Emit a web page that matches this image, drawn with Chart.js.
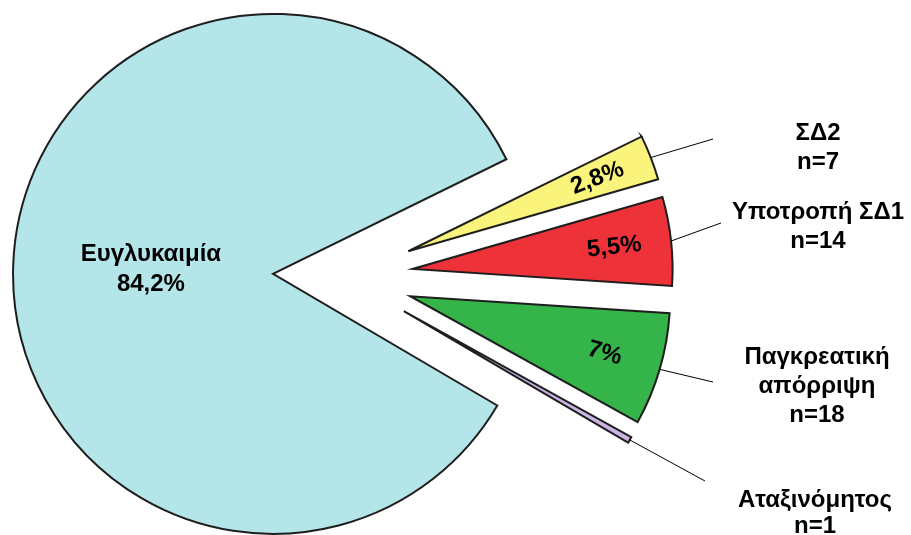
<!DOCTYPE html>
<html lang="el">
<head>
<meta charset="utf-8">
<title>Κατανομή ασθενών</title>
<script src="https://cdn.jsdelivr.net/npm/chart.js@4/dist/chart.umd.min.js"></script>
<style>
    html, body { margin: 0; padding: 0; background: #ffffff; }
    #wrap { width: 911px; height: 535px; position: relative; }
</style>
</head>
<body>
<div id="wrap"><canvas id="pieChart"></canvas></div>
<script>
// ===== Data =====
const categories = ['Ευγλυκαιμία', 'ΣΔ2', 'Υποτροπή ΣΔ1', 'Παγκρεατική απόρριψη', 'Αταξινόμητος'];
const percentages = [84.2, 2.8, 5.5, 7, 0.4];
const counts = [null, 7, 14, 18, 1];
const showPercent = [true, true, true, true, false];
// name lines for the callouts on the right (main slice is labelled inside)
const calloutNames = [null, ['ΣΔ2'], ['Υποτροπή ΣΔ1'], ['Παγκρεατική', 'απόρριψη'], ['Αταξινόμητος']];

// ===== Style =====
const sliceColors = ['#B3E5E9', '#FAF47C', '#EE3239', '#34B449', '#CBB4E3'];
const EXPLODE = 70;
const FONT = 'bold 24px "Liberation Sans", Arial, sans-serif';
const LINE_H = 29;

// callout placement: text centre x, first line y, line gap, leader end point
const callouts = [
    null,
    { x: 818, y: 133, gap: LINE_H, lx: 713, ly: 139 },
    { x: 818, y: 212, gap: LINE_H, lx: 721, ly: 223 },
    { x: 817, y: 357, gap: LINE_H, lx: 713, ly: 382 },
    { x: 815, y: 500, gap: 26, lx: 705, ly: 481 }
];
// where the percentage sits along the slice, as a fraction of the radius
const labelDepth = [0.47, 0.78, 0.78, 0.78, 0.78];

function fmtPercent(v) {
    return String(v).replace('.', ',') + '%';
}

// ===== Draw slices pushed out from the centre =====
const explodePlugin = {
    id: 'explode',
    beforeDatasetDraw(chart, args) {
        const ctx = chart.ctx;
        args.meta.data.forEach(arc => {
            const mid = (arc.startAngle + arc.endAngle) / 2;
            ctx.save();
            ctx.translate(Math.cos(mid) * EXPLODE, Math.sin(mid) * EXPLODE);
            arc.draw(ctx, chart.chartArea);
            ctx.restore();
        });
        return false;
    }
};

// ===== Percent labels + callouts =====
const labelPlugin = {
    id: 'sliceLabels',
    afterDatasetsDraw(chart) {
        const ctx = chart.ctx;
        const arcs = chart.getDatasetMeta(0).data;
        ctx.save();
        ctx.font = FONT;
        ctx.fillStyle = '#000';
        ctx.textAlign = 'center';
        ctx.textBaseline = 'middle';

        arcs.forEach((arc, i) => {
            const mid = (arc.startAngle + arc.endAngle) / 2;
            const cx = arc.x, cy = arc.y, r = arc.outerRadius;

            if (showPercent[i]) {
                const d = EXPLODE + r * labelDepth[i];
                const px = cx + Math.cos(mid) * d;
                const py = cy + Math.sin(mid) * d;
                if (i === 0) {
                    ctx.fillText(categories[0], px, py - 15);
                    ctx.fillText(fmtPercent(percentages[0]), px, py + 15);
                } else {
                    ctx.save();
                    ctx.translate(px, py);
                    ctx.rotate(mid);
                    ctx.fillText(fmtPercent(percentages[i]), 0, 0);
                    ctx.restore();
                }
            }

            const c = callouts[i];
            if (!c) return;
            // leader from the middle of the outer arc
            const sx = cx + Math.cos(mid) * (EXPLODE + r);
            const sy = cy + Math.sin(mid) * (EXPLODE + r);
            ctx.beginPath();
            ctx.strokeStyle = '#000';
            ctx.lineWidth = 1;
            ctx.moveTo(sx, sy);
            ctx.lineTo(c.lx, c.ly);
            ctx.stroke();

            const lines = calloutNames[i].concat(['n=' + counts[i]]);
            lines.forEach((t, k) => ctx.fillText(t, c.x, c.y + k * c.gap));
        });
        ctx.restore();
    }
};

// ===== Chart =====
const ctx1 = document.getElementById('pieChart').getContext('2d');
const pieChart = new Chart(ctx1, {
    type: 'pie',
    data: {
        labels: categories,
        datasets: [{
            data: percentages,
            backgroundColor: sliceColors,
            borderColor: '#1e1e1e',
            borderWidth: 2,
            borderJoinStyle: 'miter'
        }]
    },
    options: {
        responsive: true,
        maintainAspectRatio: false,
        animation: false,
        rotation: 120.4,
        radius: 260,
        layout: { padding: { left: 0, right: 225, top: 18, bottom: 0 } },
        plugins: {
            legend: { display: false },
            tooltip: { enabled: false }
        }
    },
    plugins: [explodePlugin, labelPlugin]
});
</script>
</body>
</html>
